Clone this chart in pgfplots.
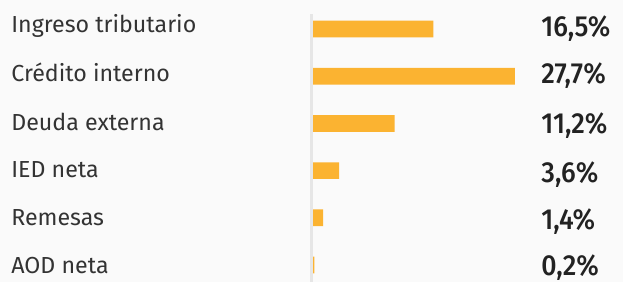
\documentclass[border=0pt]{standalone}
\usepackage{pgfplots}
\pgfplotsset{compat=1.18}
\usepackage{fontspec}
\setmainfont{Fira Sans}
\newfontfamily\valfont{Fira Sans Medium}[FakeStretch=0.92]
\definecolor{bg}{HTML}{FAFAFA}
\definecolor{barc}{HTML}{FBB331}
\definecolor{axc}{HTML}{E6E6E6}
\definecolor{txt}{HTML}{333333}
\definecolor{val}{HTML}{222222}
\begin{document}
\begin{tikzpicture}
\useasboundingbox (0,0) rectangle (623bp,282bp);
\fill[bg] (0,0) rectangle (623bp,282bp);
\begin{axis}[
  at={(313bp,0bp)}, anchor=south west,
  scale only axis, width=310bp, height=268bp,
  xbar, bar width=16.7bp,
  xmin=0, xmax=42.52, ymin=-0.318, ymax=5.36,
  y dir=reverse,
  axis lines=none, ticks=none,
  clip=false,
]
\addplot[fill=barc, draw=none] coordinates {
  (16.5,0) (27.7,1) (11.2,2) (3.6,3) (1.4,4) (0.2,5)
};
\draw[axc, line width=2.5bp] ([xshift=-1.5bp]rel axis cs:0,0) -- ([xshift=-1.5bp]rel axis cs:0,1);
\begin{scope}[every node/.style={anchor=base west, inner sep=0pt, text=txt, font=\fontsize{23.2bp}{28bp}\selectfont}]
\node at (axis cs:-41.4,0.08) {Ingreso tributario};
\node at (axis cs:-41.4,1.110) {Crédito interno};
\node at (axis cs:-41.4,2.155) {Deuda externa};
\node at (axis cs:-41.4,3.145) {IED neta};
\node at (axis cs:-41.4,4.170) {Remesas};
\node at (axis cs:-41.4,5.190) {AOD neta};
\end{scope}
\begin{scope}[every node/.style={anchor=base west, inner sep=0pt, text=val, font=\valfont\fontsize{29bp}{34bp}\selectfont}]
\node at (axis cs:31.3,0.150) {16,5\%};
\node at (axis cs:31.3,1.165) {27,7\%};
\node at (axis cs:31.3,2.210) {11,2\%};
\node at (axis cs:31.3,3.256) {3,6\%};
\node at (axis cs:31.3,4.244) {1,4\%};
\node at (axis cs:31.3,5.215) {0,2\%};
\end{scope}
\end{axis}
\end{tikzpicture}
\end{document}
